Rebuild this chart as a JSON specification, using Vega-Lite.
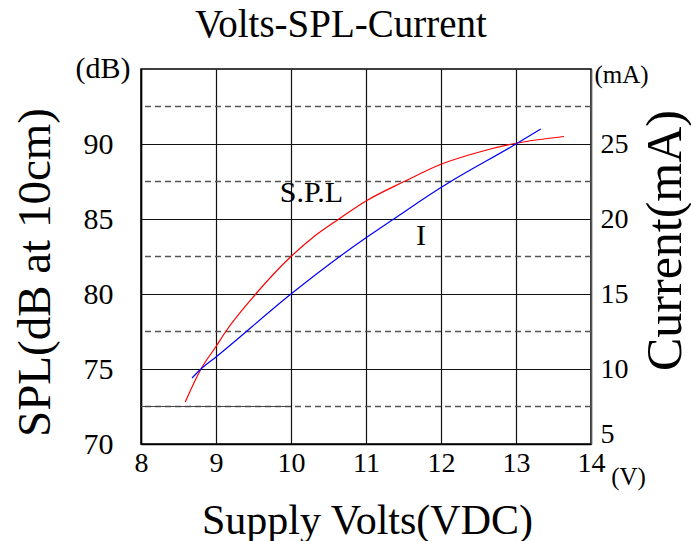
{
  "$schema": "https://vega.github.io/schema/vega-lite/v6.json",
  "width": 450,
  "height": 375,
  "autosize": "none",
  "padding": {"left": 141, "top": 69, "right": 100, "bottom": 97},
  "background": "white",
  "config": {
    "view": {"stroke": "#000", "strokeWidth": 1.5},
    "axis": {
      "labelFont": "Liberation Serif",
      "labelFontSize": 30,
      "labelColor": "#000",
      "titleColor": "#000",
      "titleFontWeight": "normal",
      "titleFont": "Liberation Serif",
      "ticks": false,
      "domainColor": "#000",
      "domainWidth": 1.5,
      "gridColor": "#111",
      "gridOpacity": 1,
      "gridWidth": 1.2,
      "format": "d"
    }
  },
  "title": {
    "text": "Volts-SPL-Current",
    "font": "Liberation Serif",
    "fontSize": 39,
    "fontWeight": "normal",
    "color": "#000",
    "anchor": "middle",
    "frame": "group",
    "dx": -25,
    "dy": 17,
    "offset": 26
  },
  "datasets": {
    "spl": [
      {"v": 8.59, "spl": 72.8},
      {"v": 8.8, "spl": 75.0},
      {"v": 9.0, "spl": 76.5},
      {"v": 9.13, "spl": 77.5},
      {"v": 9.53, "spl": 80.0},
      {"v": 10.0, "spl": 82.5},
      {"v": 10.3, "spl": 83.8},
      {"v": 10.64, "spl": 85.0},
      {"v": 11.0, "spl": 86.2},
      {"v": 11.51, "spl": 87.5},
      {"v": 12.0, "spl": 88.65},
      {"v": 12.5, "spl": 89.45},
      {"v": 13.0, "spl": 90.05},
      {"v": 13.64, "spl": 90.5}
    ],
    "cur": [
      {"v": 8.68, "ma": 9.4},
      {"v": 8.8, "ma": 10.0},
      {"v": 9.0, "ma": 10.8},
      {"v": 10.0, "ma": 15.0},
      {"v": 10.65, "ma": 17.5},
      {"v": 11.0, "ma": 18.75},
      {"v": 11.37, "ma": 20.0},
      {"v": 12.0, "ma": 22.1},
      {"v": 12.13, "ma": 22.5},
      {"v": 13.0, "ma": 25.0},
      {"v": 13.33, "ma": 26.0}
    ],
    "dash": [{"y": 72.5}, {"y": 77.5}, {"y": 82.5}, {"y": 87.5}, {"y": 92.5}],
    "seg": [{"x": 8, "x2": 10, "y": 72.5}],
    "bigText": [
      {"x": 10.273, "y": 86.71, "t": "S.P.L"},
      {"x": 11.733, "y": 83.9, "t": "I"}
    ],
    "unitText": [
      {"x": 7.493, "y": 95.0, "t": "(dB)", "s": 30},
      {"x": 14.407, "y": 94.6, "t": "(mA)", "s": 25},
      {"x": 14.5, "y": 67.8, "t": "(V)", "s": 25}
    ]
  },
  "layer": [
    {
      "data": {"name": "dash"},
      "mark": {"type": "rule", "color": "#555", "strokeDash": [6, 4], "strokeWidth": 1.5},
      "encoding": {
        "y": {"field": "y", "type": "quantitative", "scale": {"domain": [70, 95], "nice": false, "zero": false}, "axis": null}
      }
    },
    {
      "data": {"name": "seg"},
      "mark": {"type": "rule", "color": "#444", "strokeWidth": 1.2},
      "encoding": {
        "x": {"field": "x", "type": "quantitative", "scale": {"domain": [8, 14], "nice": false, "zero": false}},
        "x2": {"field": "x2"},
        "y": {"field": "y", "type": "quantitative", "scale": {"domain": [70, 95], "nice": false, "zero": false}, "axis": null}
      }
    },
    {
      "data": {"name": "spl"},
      "mark": {"type": "line", "color": "#ff0000", "strokeWidth": 1.2, "interpolate": "monotone"},
      "encoding": {
        "x": {
          "field": "v", "type": "quantitative",
          "scale": {"domain": [8, 14], "nice": false, "zero": false},
          "axis": {
            "values": [8, 9, 10, 11, 12, 13, 14],
            "grid": true,
            "title": "Supply Volts(VDC)",
            "titleFontSize": 42,
            "titleX": 226,
            "titleY": 76,
            "titleBaseline": "middle",
            "labelFontSize": 28,
            "labelPadding": 5,
            "labelFlush": false
          }
        },
        "y": {
          "field": "spl", "type": "quantitative",
          "scale": {"domain": [70, 95], "nice": false, "zero": false},
          "axis": {
            "orient": "left",
            "values": [70, 75, 80, 85, 90],
            "grid": true,
            "title": "SPL(dB at 10cm)",
            "titleFontSize": 47,
            "titleAngle": -90,
            "titleX": -106,
            "titleY": 203,
            "titleAlign": "center",
            "titleBaseline": "middle",
            "labelPadding": 28,
            "labelFlush": false
          }
        }
      }
    },
    {
      "data": {"name": "cur"},
      "mark": {"type": "line", "color": "#0000ff", "strokeWidth": 1.2, "interpolate": "monotone"},
      "encoding": {
        "x": {"field": "v", "type": "quantitative", "scale": {"domain": [8, 14], "nice": false, "zero": false}},
        "y": {
          "field": "ma", "type": "quantitative",
          "scale": {"domain": [5, 30], "nice": false, "zero": false},
          "axis": {
            "orient": "right",
            "values": [5, 10, 15, 20, 25],
            "grid": false,
            "domainColor": "#555",
            "labelFontSize": 28,
            "labelPadding": 9,
            "labelFlush": true,
            "labelFlushOffset": 4,
            "title": "Current(mA)",
            "titleFontSize": 50,
            "titleAngle": -90,
            "titleX": 74,
            "titleY": 171,
            "titleAlign": "center",
            "titleBaseline": "middle"
          }
        }
      }
    },
    {
      "data": {"name": "bigText"},
      "mark": {"type": "text", "font": "Liberation Serif", "fontSize": 30, "color": "#000"},
      "encoding": {
        "x": {"field": "x", "type": "quantitative", "scale": {"domain": [8, 14], "nice": false, "zero": false}},
        "y": {"field": "y", "type": "quantitative", "scale": {"domain": [70, 95], "nice": false, "zero": false}, "axis": null},
        "text": {"field": "t"}
      }
    },
    {
      "data": {"name": "unitText"},
      "mark": {"type": "text", "font": "Liberation Serif", "color": "#000"},
      "encoding": {
        "x": {"field": "x", "type": "quantitative", "scale": {"domain": [8, 14], "nice": false, "zero": false}},
        "y": {"field": "y", "type": "quantitative", "scale": {"domain": [70, 95], "nice": false, "zero": false}, "axis": null},
        "size": {"field": "s", "type": "quantitative", "scale": null, "legend": null},
        "text": {"field": "t"}
      }
    }
  ],
  "resolve": {"scale": {"y": "independent"}}
}
